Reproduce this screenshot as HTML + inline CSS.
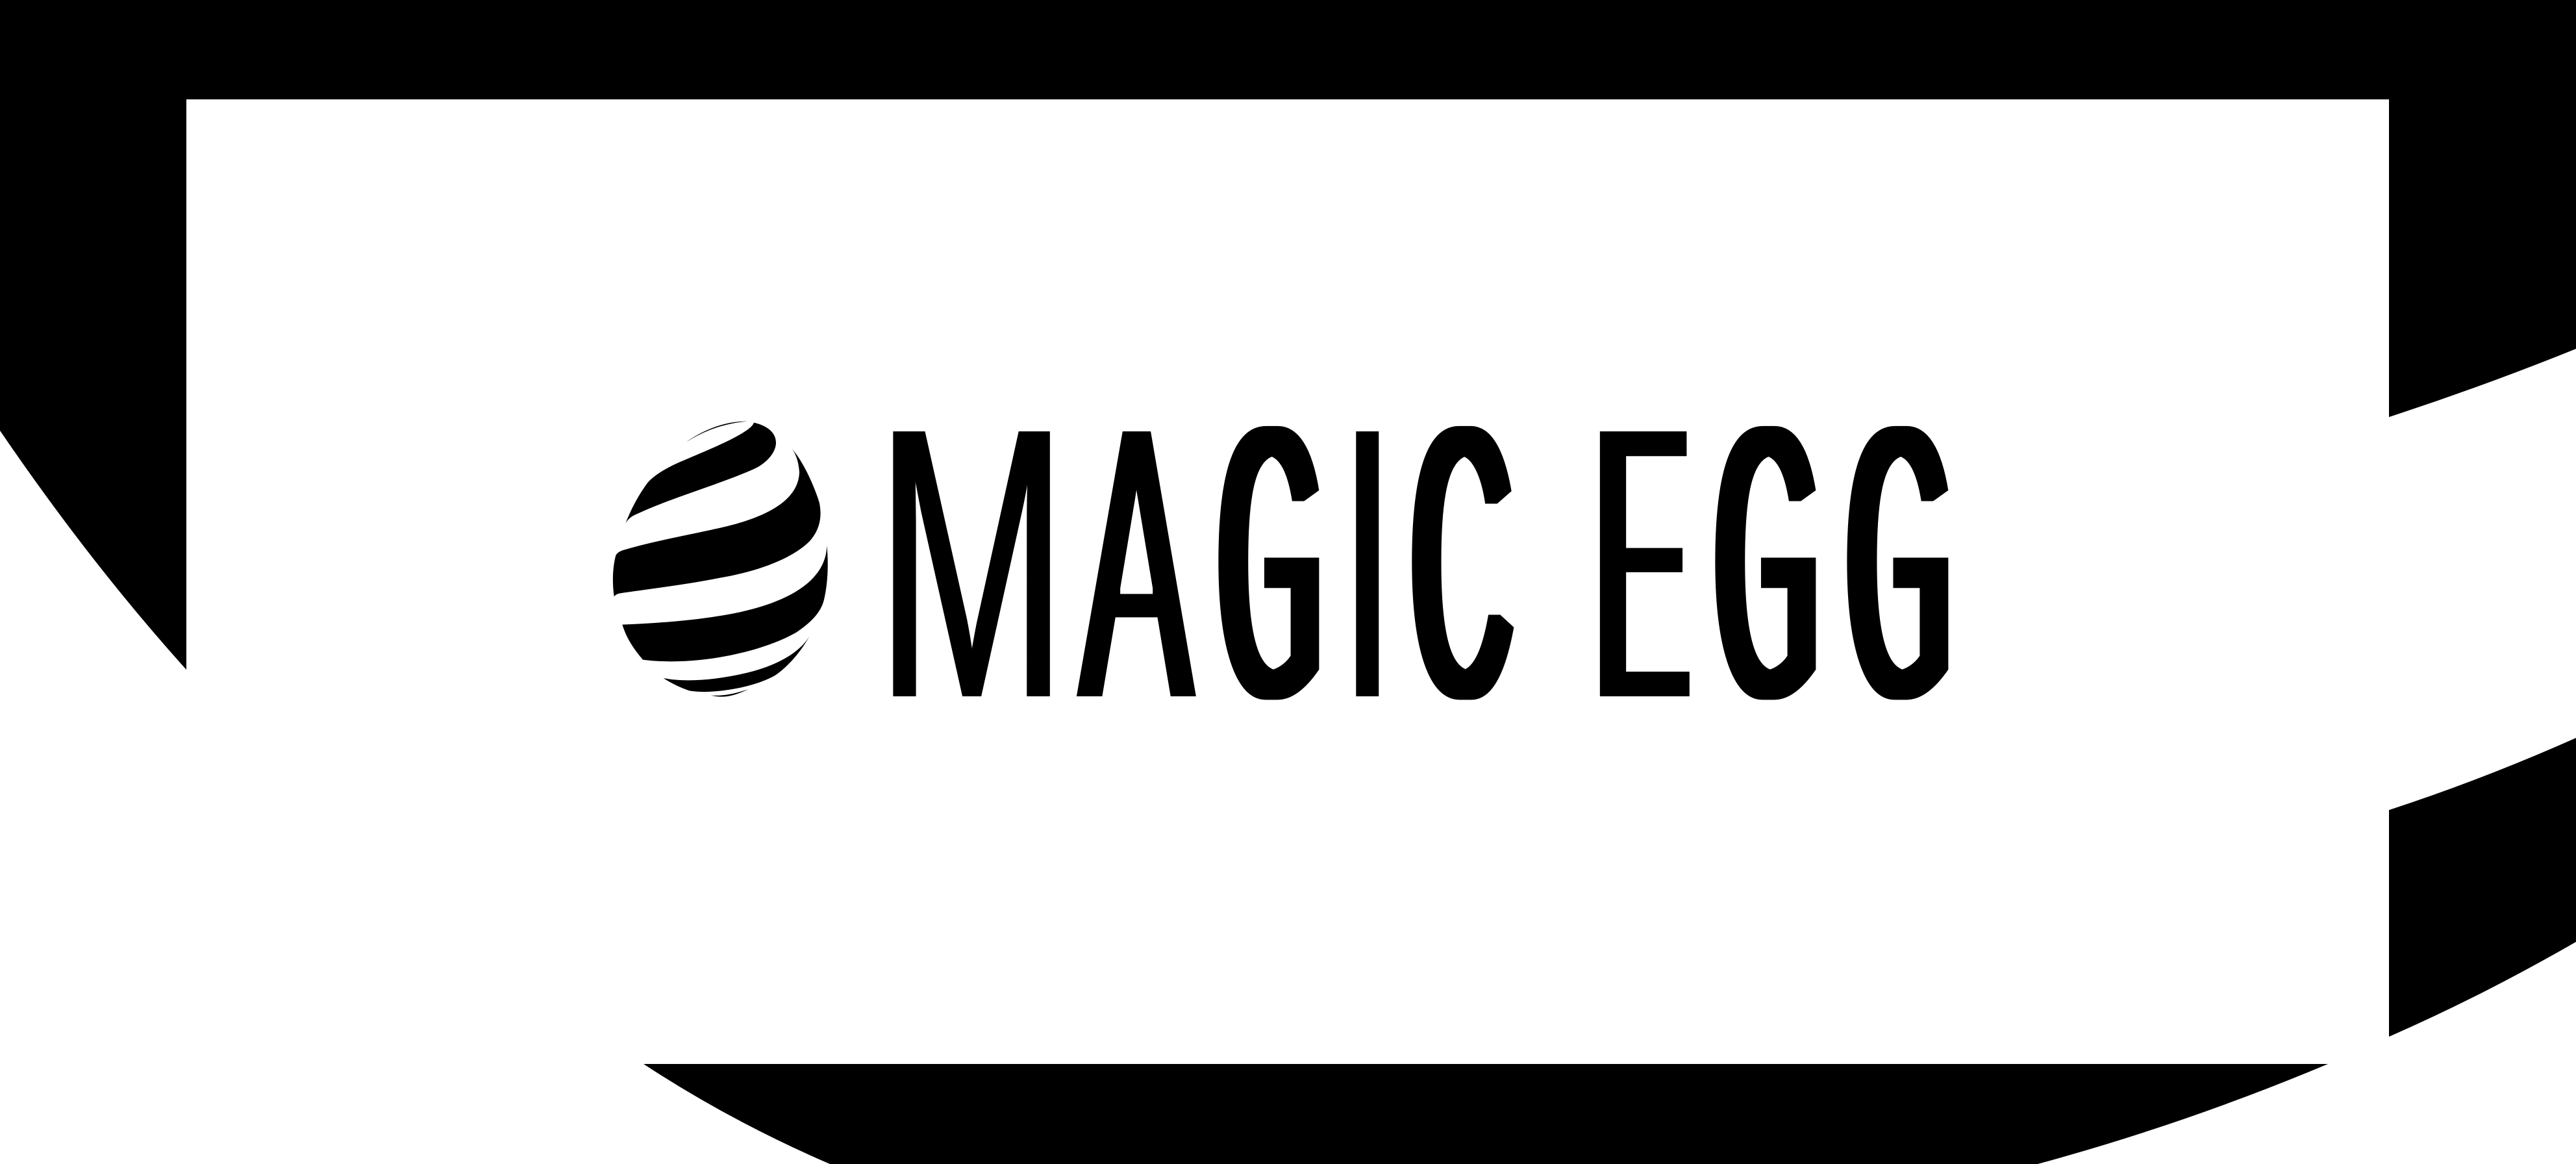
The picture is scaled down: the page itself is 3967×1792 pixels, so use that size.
<!DOCTYPE html>
<html lang="en">
<head>
<meta charset="utf-8">
<title>Magic Egg</title>
<style>
html,body{margin:0;padding:0;background:#fff;}
body{width:3967px;height:1792px;overflow:hidden;}
svg{display:block;}
text{font-family:"Liberation Sans",sans-serif;font-size:606px;fill:#000;}
text.mono{font-family:"Liberation Mono",monospace;}
</style>
</head>
<body>
<svg id="art" xmlns="http://www.w3.org/2000/svg" width="3967" height="1792" viewBox="0 0 3967 1792">
  <defs>
    <filter id="fitI" filterUnits="userSpaceOnUse" x="0" y="0" width="3967" height="1792" color-interpolation-filters="sRGB">
      <feMorphology operator="erode" radius="0 4"/>
    </filter>
    <filter id="fitM" filterUnits="userSpaceOnUse" x="0" y="0" width="3967" height="1792" color-interpolation-filters="sRGB">
      <feMorphology operator="erode" radius="0 4"/>
      <feMorphology operator="dilate" radius="3 0"/>
    </filter>
    <filter id="fitA" filterUnits="userSpaceOnUse" x="0" y="0" width="3967" height="1792" color-interpolation-filters="sRGB">
      <feMorphology operator="erode" radius="0 4"/>
      <feMorphology operator="dilate" radius="8 0"/>
    </filter>
    <filter id="fitE" filterUnits="userSpaceOnUse" x="0" y="0" width="3967" height="1792" color-interpolation-filters="sRGB">
      <feMorphology operator="erode" radius="0 4"/>
      <feMorphology operator="dilate" radius="10 0"/>
    </filter>
    <filter id="fitMono" filterUnits="userSpaceOnUse" x="0" y="0" width="3967" height="1792" color-interpolation-filters="sRGB">
      <feMorphology operator="erode" radius="0 1"/>
      <feMorphology operator="dilate" radius="9 0"/>
    </filter>
  </defs>

  <rect x="0" y="0" width="3967" height="1792" fill="#fff"/>

  <g fill="#000">
    <path d="M0,0 H3967 V537 Q3823,595 3679,642 V153 H287 V1031 Q140,868 0,663 Z"/>
    <path d="M3679,1247 Q3823,1200 3967,1136 V1450 Q3823,1533 3679,1596 Z"/>
    <path d="M991,1638 H3585 Q3366,1730 3138,1792 H1278 Q1127,1727 991,1638 Z"/>
  </g>

  <g fill="#000" transform="translate(900 620) scale(0.33333)">
    <path d="M470,182 C550,125 650,85 752,86 C650,95 560,125 470,182 Z"/>
    <path d="M783,92 C840,105 885,135 885,185 C885,230 840,285 770,312 C600,385 400,440 240,515 C215,525 200,540 190,557 C220,480 255,420 290,372 C320,335 380,300 450,270 C560,222 770,140 783,92 Z"/>
    <path d="M958,212 C1010,270 1060,380 1085,460 C1100,530 1085,590 1040,640 C960,720 800,780 620,810 C470,840 300,860 165,880 C150,883 143,888 137,895 C128,830 130,760 145,705 C150,695 160,688 175,682 C350,630 550,600 700,560 C820,525 990,460 993,320 C990,280 980,240 958,212 Z"/>
    <path d="M1120,660 C1128,740 1125,830 1108,905 C1095,970 1040,1020 980,1060 C850,1135 620,1195 400,1195 C350,1195 310,1192 270,1187 C230,1140 195,1090 175,1025 C330,1018 480,1008 620,985 C800,958 1115,880 1120,660 Z"/>
    <path d="M365,1272 C480,1295 640,1275 760,1245 C880,1215 990,1160 1040,1078 C1000,1150 940,1220 880,1260 C800,1305 680,1330 570,1335 C540,1336 510,1334 485,1330 C440,1315 400,1295 365,1272 Z"/>
    <path d="M585,1352 C650,1368 700,1350 758,1323 C700,1342 650,1355 585,1352 Z"/>
  </g>

  <g aria-label="MAGIC EGG">
    <title>MAGIC EGG</title>
    <g>
      <g filter="url(#fitM)"><text class="fit" data-l="1374" data-r="1622" data-t="655" data-b="1072" data-rx="3" data-ry="4">M</text></g>
      <g filter="url(#fitA)"><text class="fit" data-l="1656" data-r="1845" data-t="655" data-b="1072" data-rx="8" data-ry="4">A</text></g>
      <g filter="url(#fitMono)"><text class="fit mono" data-l="1874" data-r="2034" data-t="654" data-b="1081" data-rx="9" data-ry="1">G</text></g>
      <g filter="url(#fitI)"><text class="fit" data-l="2083" data-r="2124" data-t="655" data-b="1072" data-rx="0" data-ry="4">I</text></g>
      <g filter="url(#fitMono)"><text class="fit mono" data-l="2172" data-r="2333" data-t="654" data-b="1081" data-rx="9" data-ry="1">C</text></g>
    </g>
    <g>
      <g filter="url(#fitE)"><text class="fit" data-l="2463" data-r="2602" data-t="655" data-b="1072" data-rx="10" data-ry="4">E</text></g>
      <g filter="url(#fitMono)"><text class="fit mono" data-l="2639" data-r="2799" data-t="654" data-b="1081" data-rx="9" data-ry="1">G</text></g>
      <g filter="url(#fitMono)"><text class="fit mono" data-l="2842" data-r="3003" data-t="654" data-b="1081" data-rx="9" data-ry="1">G</text></g>
    </g>
  </g>
</svg>
<script>
(function () {
  var ctx = document.createElement('canvas').getContext('2d');
  var letters = document.querySelectorAll('text.fit');
  for (var i = 0; i < letters.length; i++) {
    var t = letters[i];
    ctx.font = t.classList.contains('mono') ? '606px "Liberation Mono", monospace' : '606px "Liberation Sans", sans-serif';
    var m = ctx.measureText(t.textContent);
    var xMin = -m.actualBoundingBoxLeft;
    var xMax = m.actualBoundingBoxRight;
    var asc = m.actualBoundingBoxAscent;
    var desc = m.actualBoundingBoxDescent;
    var L = parseFloat(t.getAttribute('data-l'));
    var R = parseFloat(t.getAttribute('data-r'));
    var T = parseFloat(t.getAttribute('data-t'));
    var B = parseFloat(t.getAttribute('data-b'));
    var rx = parseFloat(t.getAttribute('data-rx'));
    var ry = parseFloat(t.getAttribute('data-ry'));
    var sx = (R - L - 2 * rx) / (xMax - xMin);
    var tx = L + rx - sx * xMin;
    var sy = (B - T + 2 * ry) / (asc + desc);
    var ty = B + ry - sy * desc;
    t.setAttribute('transform', 'matrix(' + sx + ' 0 0 ' + sy + ' ' + tx + ' ' + ty + ')');
  }
})();
</script>
</body>
</html>
